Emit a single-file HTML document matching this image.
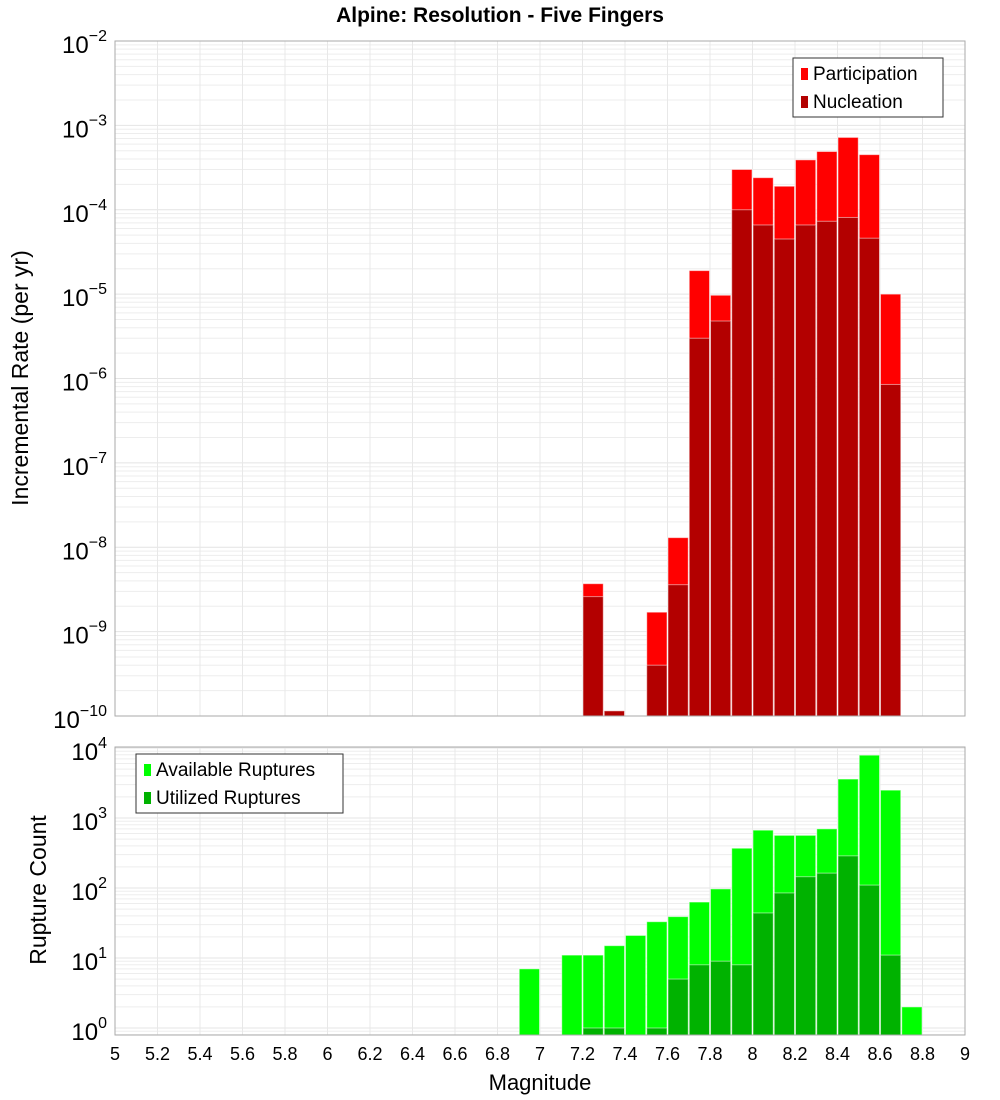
<!DOCTYPE html>
<html><head><meta charset="utf-8"><style>
body{margin:0;background:#fff;}
svg{display:block;font-family:"Liberation Sans","DejaVu Sans",sans-serif;}
</style></head><body>
<svg id="c" width="1000" height="1100">
<text x="500" y="22" text-anchor="middle" font-weight="bold" font-size="21">Alpine: Resolution - Five Fingers</text>
<g id="top"></g><g id="bot"></g>
<text transform="translate(28,378) rotate(-90)" text-anchor="middle" font-size="23">Incremental Rate (per yr)</text>
<text transform="translate(46,890) rotate(-90)" text-anchor="middle" font-size="23">Rupture Count</text>
<text x="540" y="1090" text-anchor="middle" font-size="22">Magnitude</text>
</svg>
<script>
const mags=[6.9,7.0,7.1,7.2,7.3,7.4,7.5,7.6,7.7,7.8,7.9,8.0,8.1,8.2,8.3,8.4,8.5,8.6,8.7];
const participation=[0,0,0,3.7e-9,1.15e-10,0,1.7e-9,1.3e-8,1.9e-5,9.7e-6,3.0e-4,2.4e-4,1.9e-4,3.9e-4,4.9e-4,7.2e-4,4.5e-4,1.0e-5,0];
const nucleation=[0,0,0,2.6e-9,1.15e-10,0,4.0e-10,3.6e-9,3.0e-6,4.8e-6,1.0e-4,6.6e-5,4.5e-5,6.6e-5,7.3e-5,8.1e-5,4.6e-5,8.5e-7,0];
const available=[7,0,11,11,15,21,33,39,63,97,370,670,565,565,700,3600,7900,2500,2];
const utilized=[0,0,0,1,1,0,1,5,8,9,8,44,85,145,163,288,110,11,0];
const xTicks=[5,5.2,5.4,5.6,5.8,6,6.2,6.4,6.6,6.8,7,7.2,7.4,7.6,7.8,8,8.2,8.4,8.6,8.8,9];
const NS='http://www.w3.org/2000/svg';
const X0=115,X1=965;
const xs=m=>X0+(m-5)/4*(X1-X0);
function mk(p,t,a){const e=document.createElementNS(NS,t);for(const k in a)e.setAttribute(k,a[k]);p.appendChild(e);return e;}
function panel(g,top,bottom,yTop,yBot,expTop,expBot,y0exp){
  // y0exp: exponent at yTop ; pixel per decade
  const d=(yBot-yTop)/(expTop-expBot);
  const ys=v=>yTop+(expTop-Math.log10(v))*d;
  return {d,ys};
}
function draw(g,name,top,bot,ys,lo,hi,labelExps,labelY,s1,s2,c1,c2,leg){
  // grid
  for(let e=Math.floor(lo);e<=hi;e++){for(let k=1;k<10;k++){const v=Math.pow(10,e)*k;const y=ys(v);if(y<top-0.5||y>bot+0.5)continue;
    const l=mk(g,'line',{x1:X0,x2:X1,y1:y,y2:y,stroke:k==1?'#e4e4e4':'#ededed','stroke-width':1});
    }}
  xTicks.forEach(t=>{const l=mk(g,'line',{x1:xs(t),x2:xs(t),y1:top,y2:bot,stroke:'#e8e8e8'});
    });
  const w=xs(5.1)-xs(5);
  const bar=(vals,col,nm)=>vals.forEach((v,i)=>{if(!(v>0))return;let y=Math.max(ys(v),top);const x=xs(mags[i]);
    const r=mk(g,'rect',{x:x+0.5,y:y,width:w-1,height:bot-y,fill:col,stroke:'rgba(255,255,255,0.5)','stroke-width':1});
    });
  bar(s1,c1,name+'-'+leg[0].toLowerCase().split(' ')[0]);bar(s2,c2,name+'-'+leg[1].toLowerCase().split(' ')[0]);
  const f=mk(g,'rect',{x:X0,y:top,width:X1-X0,height:bot-top,fill:'none',stroke:'#aaa'});
  
  labelExps.forEach(e=>{const y=ys(Math.pow(10,e));const t=mk(g,'text',{x:X0-8,y:labelY(y),'text-anchor':'end','font-size':24});
    
    t.textContent='10';const s=mk(t,'tspan',{dy:-12,'font-size':16});s.textContent=String(e).replace('-','\u2212');});
}
const tg=document.getElementById('top'),bg=document.getElementById('bot');
// top panel: 1e-2 at y=41, 1e-10 at y=716
const tys=v=>41+(-2-Math.log10(v))*(675/8);
draw(tg,'rate',41,716,tys,-10,-2,[-2,-3,-4,-5,-6,-7,-8,-9,-10],y=>y+12,participation,nucleation,'#ff0000','#b30000',['Participation','Nucleation']);
// bottom panel: 1e0 at 1028, decade 70
const bys=v=>1028-Math.log10(v)*70;
draw(bg,'count',747,1035,bys,-1,4,[4,3,2,1,0],y=>y+12,available,utilized,'#00ff00','#00b200',['Available Ruptures','Utilized Ruptures']);
// x tick labels
xTicks.forEach(t=>{const e=mk(bg,'text',{x:xs(t),y:1060,'text-anchor':'middle','font-size':18});
  e.textContent=String(t);});
// legends
function legend(g,x,y,w,items,name){const b=mk(g,'rect',{x:x,y:y,width:w,height:59,fill:'#fff',stroke:'#333'});
  
  items.forEach((it,i)=>{const s=mk(g,'rect',{x:x+8,y:y+10+i*28,width:7,height:12,fill:it[1]});
    
    const t=mk(g,'text',{x:x+20,y:y+22+i*28,'font-size':19});t.textContent=it[0];});}
legend(tg,793,58,150,[['Participation','#ff0000'],['Nucleation','#b30000']],'rate-legend');
legend(bg,136,754,207,[['Available Ruptures','#00ff00'],['Utilized Ruptures','#00b200']],'count-legend');
</script>
</body></html>
